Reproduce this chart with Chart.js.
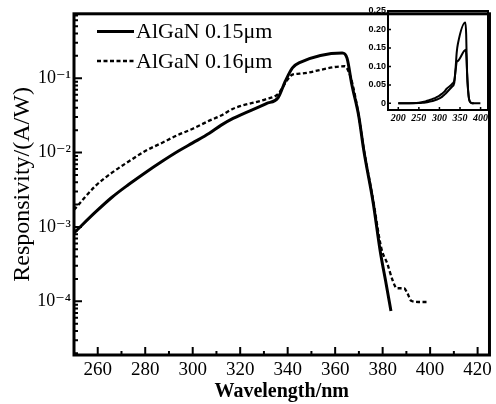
<!DOCTYPE html>
<html><head><meta charset="utf-8">
<script src="https://cdn.jsdelivr.net/npm/chart.js@4.4.0/dist/chart.umd.min.js"></script>
<style>
html,body{margin:0;padding:0;background:#fff;}
#wrap{position:relative;width:496px;height:404px;overflow:hidden;}
#main{position:absolute;left:0;top:0;}
#inset{position:absolute;left:352px;top:0;}
</style>
</head><body>
<div id="wrap"><canvas id="main" width="496" height="404"></canvas><canvas id="inset" width="144" height="125"></canvas></div>
<script>
// ---- data ----
const SERIES_LABELS = ['AlGaN 0.15μm', 'AlGaN 0.16μm'];

const WL_015   = [250, 259, 266, 273, 280, 287, 294, 300, 307, 312, 317, 331, 336, 339, 342, 345, 363, 365, 367, 370, 372, 376, 379, 381.5, 383.5];
const RESP_015 = [8.3e-4, 1.58e-3, 2.51e-3, 3.72e-3, 5.37e-3, 7.59e-3, 0.0105, 0.0135, 0.0182, 0.0234, 0.0288, 0.0457, 0.0550, 0.0912, 0.138, 0.162, 0.219, 0.186, 0.0832, 0.0302, 0.0110, 0.00214, 4.68e-4, 1.70e-4, 7.4e-5];

const WL_016   = [250, 259, 266, 273, 280, 287, 294, 300, 307, 312, 317, 331, 336, 339.5, 342, 345, 364, 365.5, 367.5, 370, 372, 376, 379.5, 382, 384, 386, 389, 390.5, 392, 395, 399.5];
const RESP_016 = [1.7e-3, 3.55e-3, 5.37e-3, 7.59e-3, 0.0105, 0.0135, 0.0174, 0.0209, 0.0269, 0.0316, 0.0389, 0.0525, 0.0617, 0.0912, 0.112, 0.115, 0.145, 0.126, 0.079, 0.0302, 0.0115, 0.0023, 5.1e-4, 3.2e-4, 2.0e-4, 1.5e-4, 1.5e-4, 1.27e-4, 1.02e-4, 9.8e-5, 9.8e-5];

// main axes ticks
const X_LABEL_TICKS = [260, 280, 300, 320, 340, 360, 380, 400, 420];
const X_MINOR_TICKS = [270, 290, 310, 330, 350, 370, 390, 410];
const Y_TICK_VALUES = [1e-4, 1e-3, 1e-2, 1e-1];
const Y_TICK_LABELS = ['10⁻⁴', '10⁻³', '10⁻²', '10⁻¹'];
const Y_DECADE_EXPONENTS = [-5, -4, -3, -2, -1];
const Y_MINOR_MULTIPLIERS = [2, 3, 4, 5, 6, 7, 8, 9];

// inset (linear view, curves start from zero at 200 nm)
const INSET_START_WL = 200;
const INSET_START_VALUE = 0;
const INSET_X_TICKS = [200, 250, 300, 350, 400];
const INSET_Y_TICKS = [0, 0.05, 0.10, 0.15, 0.20, 0.25];
const INSET_Y_LABELS = ['0', '0.05', '0.10', '0.15', '0.20', '0.25'];

// ---- helpers ----
const pts = (xs, ys) => xs.map((x, i) => ({x: x, y: ys[i]}));
const SERIF = "'Liberation Serif', 'DejaVu Serif', serif";

function makeFrame(id, isXMajor, isYMajor, majorLen, minorLen, tickWidth, borderWidth) {
  return {
    id: id,
    afterDatasetsDraw(chart) {
      const ctx = chart.ctx, a = chart.chartArea;
      const xs = chart.scales.x, ys = chart.scales.y;
      ctx.save();
      ctx.strokeStyle = '#000';
      ctx.lineWidth = tickWidth;
      ctx.beginPath();
      xs.ticks.forEach(t => {
        const p = xs.getPixelForValue(t.value);
        const len = isXMajor(t.value) ? majorLen : minorLen;
        ctx.moveTo(p, a.bottom); ctx.lineTo(p, a.bottom - len);
      });
      ys.ticks.forEach(t => {
        const p = ys.getPixelForValue(t.value);
        const len = isYMajor(t.value) ? majorLen : minorLen;
        ctx.moveTo(a.left, p); ctx.lineTo(a.left + len, p);
      });
      ctx.stroke();
      ctx.lineWidth = borderWidth;
      ctx.strokeRect(a.left, a.top, a.right - a.left, a.bottom - a.top);
      ctx.restore();
    }
  };
}

const insideLegend = {
  id: 'insideLegend',
  afterDraw(chart) {
    const ctx = chart.ctx;
    const x0 = 97, x1 = 134, tx = 136, y0 = 31.5, dy = 29.5;
    ctx.save();
    ctx.font = '22px ' + SERIF;
    ctx.textBaseline = 'middle';
    ctx.fillStyle = '#000';
    chart.data.datasets.forEach((ds, i) => {
      const y = y0 + i * dy;
      ctx.strokeStyle = ds.borderColor;
      ctx.lineWidth = ds.borderWidth;
      ctx.setLineDash(ds.borderDash || []);
      ctx.beginPath(); ctx.moveTo(x0, y); ctx.lineTo(x1, y); ctx.stroke();
      ctx.setLineDash([]);
      ctx.fillText(ds.label, tx, y + 1);
    });
    ctx.restore();
  }
};

const isDecade = v => Math.abs(Math.log10(v) - Math.round(Math.log10(v))) < 1e-6;

// ---- main chart ----
new Chart(document.getElementById('main'), {
  type: 'line',
  data: {
    datasets: [
      {label: SERIES_LABELS[0], data: pts(WL_015, RESP_015), borderColor: '#000', borderWidth: 3, pointRadius: 0, cubicInterpolationMode: 'monotone', fill: false},
      {label: SERIES_LABELS[1], data: pts(WL_016, RESP_016), borderColor: '#000', borderWidth: 2.3, borderDash: [4, 2.5], pointRadius: 0, cubicInterpolationMode: 'monotone', fill: false}
    ]
  },
  options: {
    responsive: false, animation: false,
    layout: {padding: {left: 0, right: 5, top: 9, bottom: 0}},
    plugins: {legend: {display: false}, tooltip: {enabled: false}},
    scales: {
      x: {
        type: 'linear', min: 250, max: 425,
        grid: {display: false, drawTicks: false},
        border: {display: false},
        afterBuildTicks: s => { s.ticks = X_LABEL_TICKS.concat(X_MINOR_TICKS).sort((a, b) => a - b).map(v => ({value: v})); },
        afterFit: s => { s.height = 49; },
        ticks: {autoSkip: false, maxRotation: 0, padding: 4, color: '#000', font: {family: SERIF, size: 19},
          callback: v => X_LABEL_TICKS.includes(v) ? String(v) : ''},
        title: {display: true, text: 'Wavelength/nm', color: '#000', padding: {top: 0, bottom: 0}, font: {family: SERIF, size: 20, weight: 'bold', lineHeight: 1.2}}
      },
      y: {
        type: 'logarithmic', min: 1.9e-5, max: 0.735,
        grid: {display: false, drawTicks: false},
        border: {display: false},
        afterBuildTicks: s => {
          const t = [];
          Y_DECADE_EXPONENTS.forEach(e => {
            [1].concat(Y_MINOR_MULTIPLIERS).forEach(m => {
              const v = m * Math.pow(10, e);
              if (v >= s.min && v <= s.max) t.push({value: v});
            });
          });
          s.ticks = t;
        },
        afterFit: s => { s.width = 74; },
        ticks: {autoSkip: false, padding: 3, color: '#000', font: {family: SERIF, size: 18},
          callback: v => {
            for (let i = 0; i < Y_TICK_VALUES.length; i++) {
              if (Math.abs(Math.log10(v) - Math.log10(Y_TICK_VALUES[i])) < 1e-6) return Y_TICK_LABELS[i];
            }
            return '';
          }},
        title: {display: true, text: 'Responsivity/(A/W)', color: '#000', padding: {top: 8, bottom: 0}, font: {family: SERIF, size: 24, lineHeight: 1.2}}
      }
    }
  },
  plugins: [makeFrame('mainFrame', v => X_LABEL_TICKS.includes(v), isDecade, 8, 4, 2, 3), insideLegend]
});

// ---- inset chart ----
new Chart(document.getElementById('inset'), {
  type: 'line',
  data: {
    datasets: [
      {label: SERIES_LABELS[0], data: [{x: INSET_START_WL, y: INSET_START_VALUE}].concat(pts(WL_015, RESP_015)), borderColor: '#000', borderWidth: 2, pointRadius: 0, cubicInterpolationMode: 'monotone'},
      {label: SERIES_LABELS[1], data: [{x: INSET_START_WL, y: INSET_START_VALUE}].concat(pts(WL_016, RESP_016)), borderColor: '#000', borderWidth: 2, pointRadius: 0, cubicInterpolationMode: 'monotone'}
    ]
  },
  options: {
    responsive: false, animation: false,
    layout: {padding: {left: 0, right: 8, top: 11, bottom: 0}},
    plugins: {legend: {display: false}, tooltip: {enabled: false}},
    scales: {
      x: {
        type: 'linear', min: 175, max: 418,
        grid: {display: false, drawTicks: false}, border: {display: false},
        afterBuildTicks: s => { s.ticks = INSET_X_TICKS.map(v => ({value: v})); },
        afterFit: s => { s.height = 15; },
        ticks: {autoSkip: false, maxRotation: 0, padding: 2, color: '#000', font: {family: SERIF, size: 10, style: 'italic', weight: 'bold'}}
      },
      y: {
        type: 'linear', min: -0.018, max: 0.25,
        grid: {display: false, drawTicks: false}, border: {display: false},
        afterBuildTicks: s => { s.ticks = INSET_Y_TICKS.map(v => ({value: v})); },
        afterFit: s => { s.width = 36; },
        ticks: {autoSkip: false, padding: 2, color: '#000', font: {family: "'Liberation Sans', Arial, sans-serif", size: 9, weight: 'bold'},
          callback: (v, i) => INSET_Y_LABELS[i]}
      }
    }
  },
  plugins: [makeFrame('insetFrame', () => true, () => true, 3, 3, 1.5, 2)]
});
</script>
</body></html>
